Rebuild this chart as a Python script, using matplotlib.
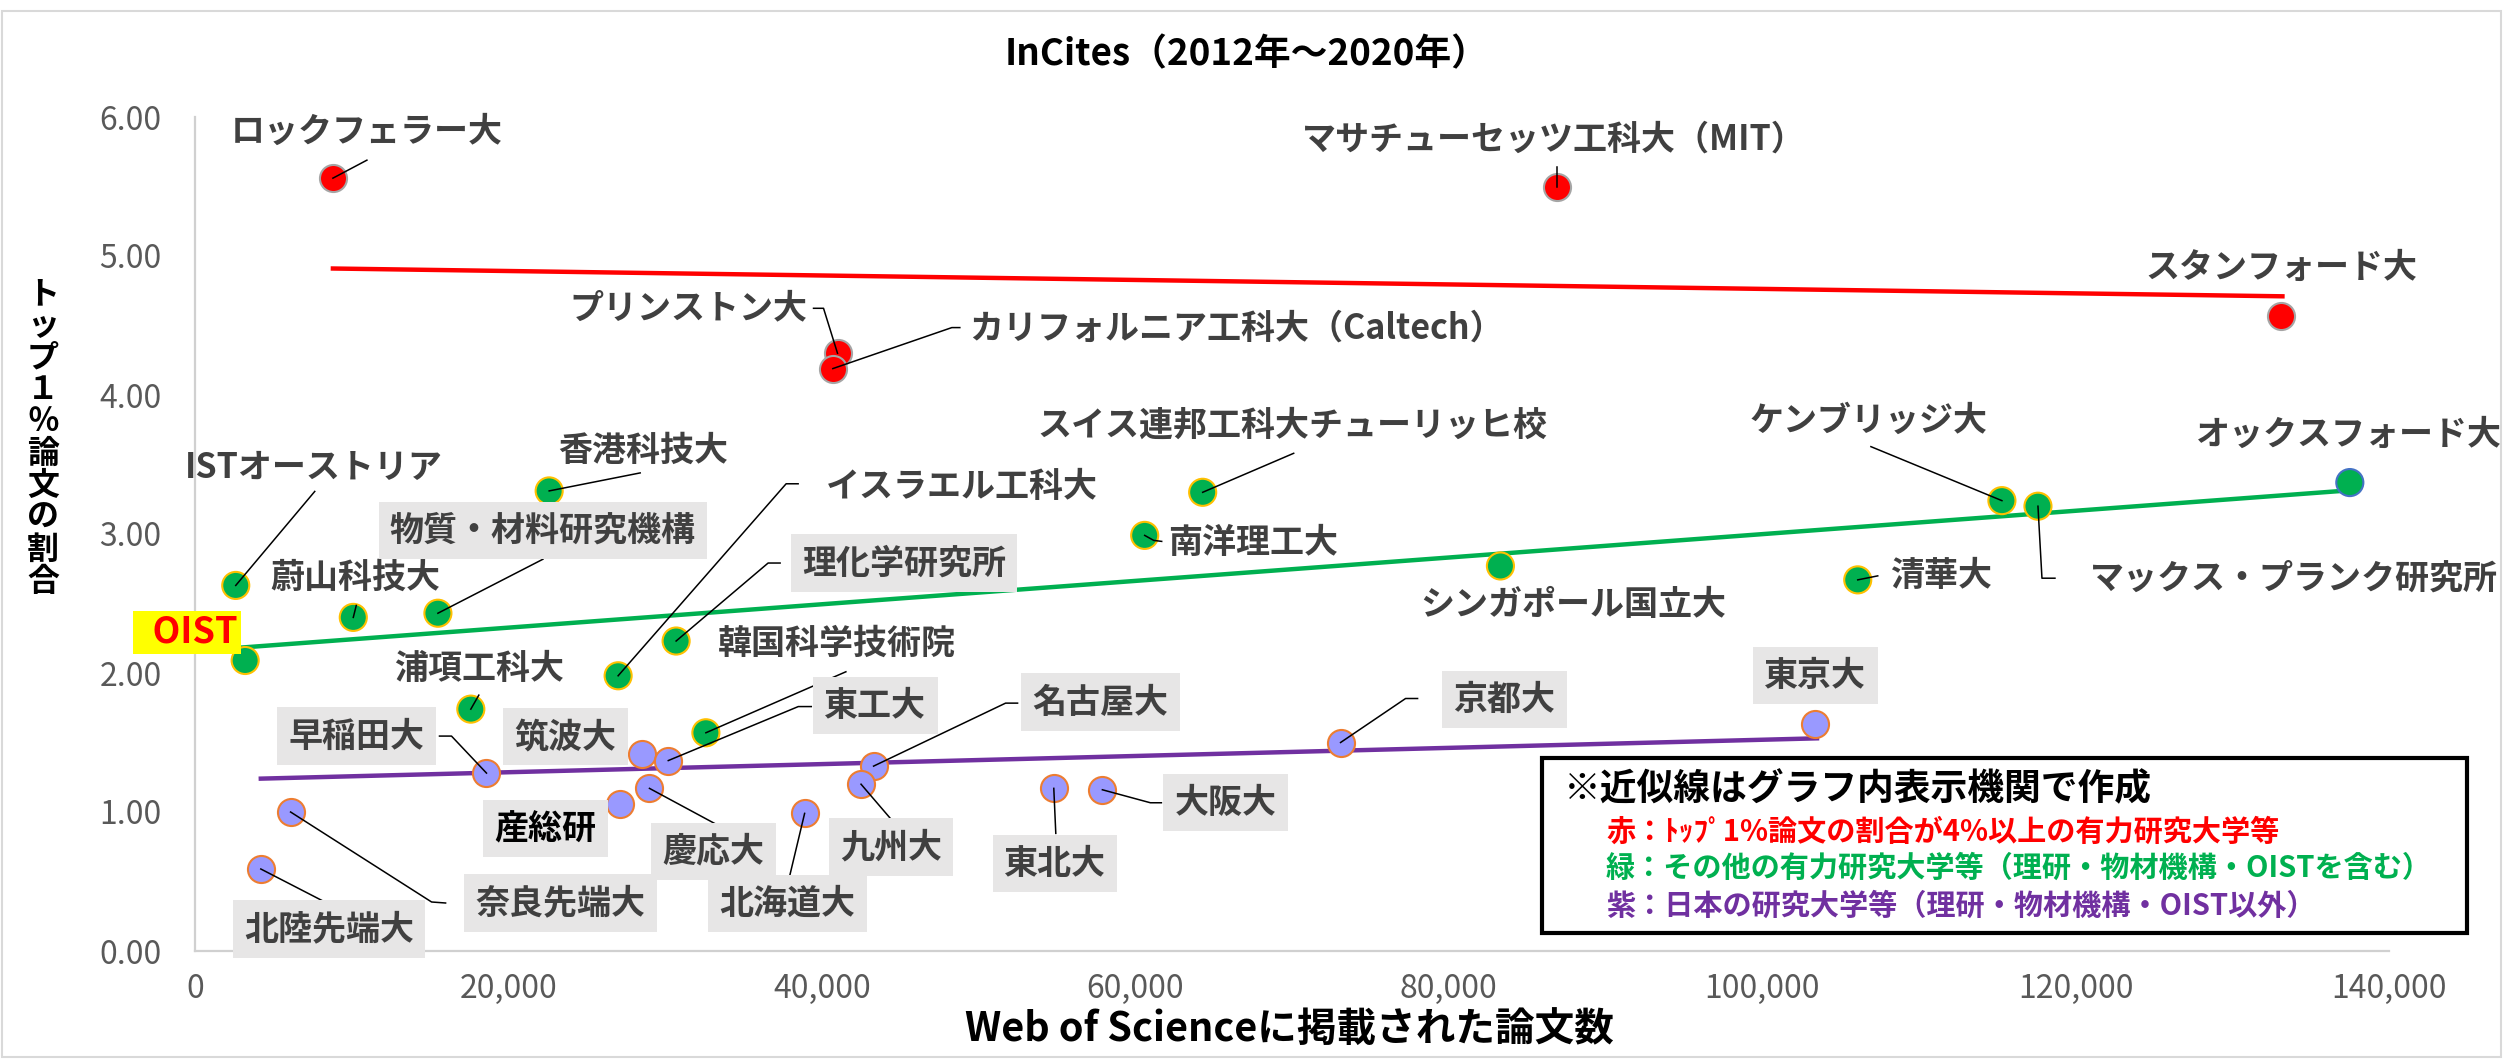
import numpy as np
import matplotlib
matplotlib.use('Agg')
import matplotlib.pyplot as plt
from matplotlib.patches import Rectangle

plt.rcParams['font.family'] = ['Noto Sans CJK JP', 'DejaVu Sans']

# --- data ---
red_names = ['ロックフェラー大', 'マサチューセッツ工科大（MIT）', 'プリンストン大',
             'カリフォルニア工科大（Caltech）', 'スタンフォード大']
red_papers = [8800, 86900, 41000, 40700, 133100]
red_top1 = [5.56, 5.50, 4.30, 4.19, 4.57]

green_names = ['ISTオーストリア', '蔚山科技大', '物質・材料研究機構', 'OIST', '浦項工科大',
               '香港科技大', 'イスラエル工科大', '理化学研究所', '韓国科学技術院', '南洋理工大',
               'スイス連邦工科大チューリッヒ校', 'シンガポール国立大', 'ケンブリッジ大',
               'マックス・プランク研究所', '清華大', 'オックスフォード大']
green_papers = [2600, 10100, 15500, 3200, 17600, 22600, 27000, 30700, 32600, 60600,
                64300, 83300, 115300, 117600, 106100, 137500]
green_top1 = [2.63, 2.40, 2.43, 2.09, 1.74, 3.31, 1.98, 2.23, 1.57, 2.99,
              3.30, 2.77, 3.24, 3.20, 2.67, 3.37]

purple_names = ['北陸先端大', '奈良先端大', '早稲田大', '筑波大', '東工大', '産総研', '慶応大',
                '北海道大', '名古屋大', '九州大', '東北大', '大阪大', '京都大', '東京大']
purple_papers = [4200, 6100, 18600, 28500, 30200, 27100, 29000, 38900, 43300, 42500,
                 54800, 57900, 73100, 103400]
purple_top1 = [0.59, 1.00, 1.28, 1.42, 1.37, 1.06, 1.17, 0.99, 1.33, 1.20,
               1.17, 1.16, 1.50, 1.63]

# approximate lines (end points as drawn)
red_trend_papers = [8800, 133200]
red_trend_top1 = [4.91, 4.71]
green_trend_papers = [2600, 137000]
green_trend_top1 = [2.18, 3.31]
purple_trend_papers = [4200, 103500]
purple_trend_top1 = [1.24, 1.53]

x_ticks = [0, 20000, 40000, 60000, 80000, 100000, 120000, 140000]
y_ticks = [0, 1, 2, 3, 4, 5, 6]

title = 'InCites（2012年～2020年）'
x_title = 'Web of Scienceに掲載された論文数'
y_title = 'トップ１％論文の割合'
note_lines = ['※近似線はグラフ内表示機関で作成',
              '赤：ﾄｯﾌﾟ1%論文の割合が4%以上の有力研究大学等',
              '緑：その他の有力研究大学等（理研・物材機構・OISTを含む）',
              '紫：日本の研究大学等（理研・物材機構・OIST以外）']

# label placement: text offset (px), leader polyline (px), all relative to the point
layout = {
    'ロックフェラー大': dict(off=(34, 47), lead=[(34, 18)]),
    'マサチューセッツ工科大（MIT）': dict(off=(-3, 47), lead=[(0, 20)]),
    'プリンストン大': dict(off=(-30, 45), ha='right', lead=[(-14, 45), (-24, 45)]),
    'カリフォルニア工科大（Caltech）': dict(off=(136, 40), ha='left', lead=[(119, 41), (127, 41)]),
    'スタンフォード大': dict(off=(1, 48)),
    'ISTオーストリア': dict(off=(78, 118), lead=[(79, 94)]),
    '蔚山科技大': dict(off=(2, 40), lead=[(3, 12)]),
    '物質・材料研究機構': dict(off=(105, 83), lead=[(105, 54)], box=True),
    'OIST': dict(off=(-58, 28), oist=True),
    '浦項工科大': dict(off=(8, 41), lead=[(8, 14)]),
    '香港科技大': dict(off=(94, 41), lead=[(91, 18)]),
    'イスラエル工科大': dict(off=(208, 189), ha='left', lead=[(168, 192), (180, 192)]),
    '理化学研究所': dict(off=(126, 78), ha='left', lead=[(92, 78), (104, 78)], box=True),
    '韓国科学技術院': dict(off=(12, 90), ha='left', lead=[(140, 61)]),
    '南洋理工大': dict(off=(23, -7), ha='left', lead=[(9, -5), (17, -6)]),
    'スイス連邦工科大チューリッヒ校': dict(off=(90, 67), lead=[(91, 39)]),
    'シンガポール国立大': dict(off=(73, -39)),
    'ケンブリッジ大': dict(off=(-133, 80), lead=[(-131, 54)]),
    'マックス・プランク研究所': dict(off=(52, -72), ha='left', lead=[(4, -72), (17, -72)]),
    '清華大': dict(off=(32, 4), ha='left', lead=[(20, 4)]),
    'オックスフォード大': dict(off=(-1, 48)),
    '北陸先端大': dict(off=(68, -60), lead=[(66, -34)], box=True),
    '奈良先端大': dict(off=(270, -91), lead=[(141, -90), (155, -91)], box=True),
    '早稲田大': dict(off=(-130, 37), lead=[(-35, 37), (-47, 37)], box=True),
    '筑波大': dict(off=(-76, 17), box=True),
    '東工大': dict(off=(207, 55), lead=[(130, 54), (143, 54)], box=True),
    '産総研': dict(off=(-74, -25), box=True, color='black'),
    '慶応大': dict(off=(64, -63), lead=[(65, -35)], box=True),
    '北海道大': dict(off=(-17, -90), lead=[(-16, -67)], box=True),
    '名古屋大': dict(off=(227, 64), lead=[(132, 63), (144, 63)], box=True),
    '九州大': dict(off=(30, -63), lead=[(30, -35)], box=True),
    '東北大': dict(off=(1, -75), lead=[(2, -45)], box=True),
    '大阪大': dict(off=(123, -13), lead=[(48, -13), (59, -13)], box=True),
    '京都大': dict(off=(164, 43), lead=[(65, 44), (77, 44)], box=True),
    '東京大': dict(off=(0, 49), box=True),
}

W, H = 2504, 1060
fig = plt.figure(figsize=(W / 100, H / 100), dpi=100)
ax = fig.add_axes([195 / W, 1 - 951 / H, (2389 - 195) / W, (951 - 117) / H])
ax.set_xlim(0, 140000)
ax.set_ylim(0, 6)
ax.set_xticks(x_ticks)
ax.set_xticklabels(['{:,}'.format(v) for v in x_ticks])
ax.set_yticks(y_ticks)
ax.set_yticklabels(['{:.2f}'.format(v) for v in y_ticks])
ax.tick_params(length=0, labelsize=23, colors='#595959')
ax.tick_params(axis='y', pad=24)
ax.tick_params(axis='x', pad=16)
for s in ['top', 'right']:
    ax.spines[s].set_visible(False)
for s in ['left', 'bottom']:
    ax.spines[s].set_color('#D0D0D0')
    ax.spines[s].set_linewidth(1.6)

ax.plot(red_trend_papers, red_trend_top1, color='#FF0000', lw=3.2, zorder=2)
ax.plot(green_trend_papers, green_trend_top1, color='#00B050', lw=3.2, zorder=2)
ax.plot(purple_trend_papers, purple_trend_top1, color='#7030A0', lw=3.2, zorder=2)

green_edges = ['#4472C4' if n == 'オックスフォード大' else '#FFC000' for n in green_names]
ax.scatter(red_papers, red_top1, s=380, c='#FF0000', edgecolors='#A5A5A5', linewidths=1.5, zorder=3)
ax.scatter(green_papers, green_top1, s=380, c='#00B050', edgecolors=green_edges, linewidths=1.5, zorder=3)
ax.scatter(purple_papers, purple_top1, s=380, c='#9999FF', edgecolors='#ED7D31', linewidths=1.5, zorder=3)

inv = ax.transData.inverted()
for names, xs, ys in [(red_names, red_papers, red_top1),
                      (green_names, green_papers, green_top1),
                      (purple_names, purple_papers, purple_top1)]:
    for n, x, y in zip(names, xs, ys):
        lay = layout[n]
        base = ax.transData.transform((x, y))
        if lay.get('lead'):
            pts = [base] + [base + np.array(p) for p in lay['lead']]
            pts = inv.transform(np.array(pts))
            ax.plot(pts[:, 0], pts[:, 1], color='black', lw=1.1, zorder=4, clip_on=False)
        kw = dict(ha=lay.get('ha', 'center'), va='center', fontsize=24.5, weight='bold',
                  color=lay.get('color', '#404040'), zorder=5, annotation_clip=False)
        if lay.get('box'):
            kw['bbox'] = dict(boxstyle='square,pad=0.33', fc='#E7E6E6', ec='none')
        if lay.get('oist'):
            kw.update(color='#FF0000', fontsize=26,
                      bbox=dict(boxstyle='square,pad=0.08', fc='#FFFF00', ec='none'))
            n = '  ' + n
        ax.annotate(n, xy=(x, y), xytext=lay['off'], textcoords='offset pixels', **kw)

fig.text(1247 / W, 1 - 55 / H, title, ha='center', va='center', fontsize=26.5, weight='bold')
fig.text(1289 / W, 1 - 1030 / H, x_title, ha='center', va='center', fontsize=28.5, weight='bold')
fig.text(43 / W, 1 - 438 / H, '\n'.join(y_title), ha='center', va='center', fontsize=23,
         weight='bold', linespacing=1.0)

# note box
fig.add_artist(Rectangle((1542 / W, 1 - 933 / H), (2467 - 1542) / W, (933 - 758) / H,
                         transform=fig.transFigure, fc='white', ec='black', lw=3, zorder=6))
note_colors = ['black', '#FF0000', '#00B050', '#7030A0']
note_pos = [(1564, 790, 26.5), (1606, 832, 21), (1606, 868, 21), (1606, 906, 21)]
for t, c, (px, py, fs) in zip(note_lines, note_colors, note_pos):
    fig.text(px / W, 1 - py / H, t, ha='left', va='center', fontsize=fs, weight='bold',
             color=c, zorder=7)

# chart area border
fig.add_artist(Rectangle((2 / W, 3 / H), (W - 5) / W, (H - 14) / H, transform=fig.transFigure,
                         fill=False, ec='#D9D9D9', lw=1.5))

fig.savefig('out.png', dpi=100)
